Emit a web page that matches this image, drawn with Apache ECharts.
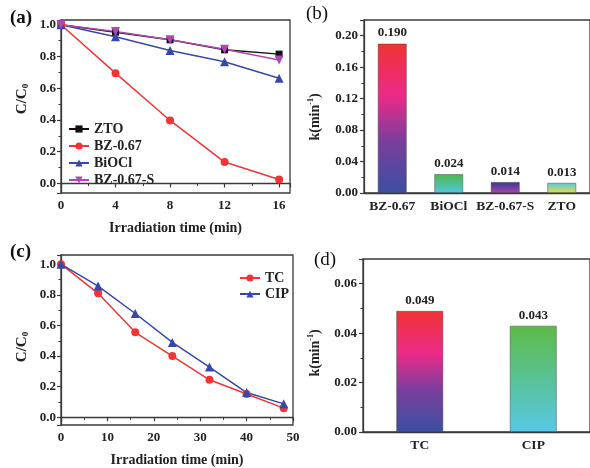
<!DOCTYPE html>
<html>
<head>
<meta charset="utf-8">
<script src="https://cdn.jsdelivr.net/npm/echarts@6/dist/echarts.min.js"></script>
<style>
  html, body { margin: 0; padding: 0; background: #fff; }
  #chart { width: 590px; height: 468px; }
</style>
</head>
<body>
<div id="chart"></div>
<script>
// (a) degradation curves, C/C0 vs irradiation time
const timeA = [0, 4, 8, 12, 16];
const ztoA = [1.0, 0.953, 0.905, 0.842, 0.815];
const bz067A = [1.0, 0.695, 0.397, 0.135, 0.025];
const biociA = [1.0, 0.925, 0.838, 0.767, 0.663];
const bz067sA = [1.0, 0.958, 0.906, 0.846, 0.778];

// (b) rate constants k (min^-1)
const catsB = ['BZ-0.67', 'BiOCl', 'BZ-0.67-S', 'ZTO'];
const kB = [0.190, 0.024, 0.014, 0.013];
const labelsB = ['0.190', '0.024', '0.014', '0.013'];

// (c) TC and CIP degradation curves
const timeC = [0, 8, 16, 24, 32, 40, 48];
const tcC = [1.0, 0.81, 0.555, 0.40, 0.245, 0.152, 0.06];
const cipC = [1.0, 0.857, 0.678, 0.489, 0.328, 0.162, 0.088];

// (d) rate constants for TC and CIP
const catsD = ['TC', 'CIP'];
const kD = [0.049, 0.043];
const labelsD = ['0.049', '0.043'];

const FONT = '"Liberation Serif", "Times New Roman", "DejaVu Serif", serif';
const INK = '#222';
const AXIS = '#3a3a3a';

const RED = '#f03535';
const BLUE = '#3848a8';
const MAGENTA = '#b048b4';

function grad(stops) {
  return new echarts.graphic.LinearGradient(0, 0, 0, 1,
    stops.map(s => ({ offset: s[0], color: s[1] })));
}
const barFills = {
  'BZ-0.67': [[0, '#ef3333'], [0.35, '#ec2a88'], [0.65, '#7b3e9c'], [1, '#3a50a2']],
  'BiOCl': [[0, '#4db848'], [1, '#50c8e2']],
  'BZ-0.67-S': [[0, '#2e3c94'], [1, '#b444aa']],
  'ZTO': [[0, '#56c8e6'], [1, '#e6e042']],
  'TC': [[0, '#ef3333'], [0.35, '#ec2a88'], [0.65, '#7b3e9c'], [1, '#3a50a2']],
  'CIP': [[0, '#5cbb46'], [1, '#58c8e6']]
};

const tickLabel = { fontFamily: FONT, fontWeight: 'bold', fontSize: 13, color: INK };
const axisLine = { show: true, lineStyle: { color: AXIS, width: 1.3 } };
const majorTick = { show: true, length: 4, lineStyle: { color: AXIS, width: 1.2 } };
const minorTick = { show: true, splitNumber: 2, length: 2.5, lineStyle: { color: AXIS, width: 1 } };
const gridBox = { show: true, borderColor: AXIS, borderWidth: 1.3, backgroundColor: 'transparent' };

function valueAxis(extra) {
  return Object.assign({
    type: 'value',
    axisLine: axisLine,
    axisTick: majorTick,
    minorTick: minorTick,
    splitLine: { show: false },
    axisLabel: Object.assign({ margin: 5 }, tickLabel)
  }, extra);
}

function lineSeries(name, xs, ys, color, symbol, size, axisIndex) {
  return {
    type: 'line', name: name,
    xAxisIndex: axisIndex, yAxisIndex: axisIndex,
    data: xs.map((x, i) => [x, ys[i]]),
    symbol: symbol, symbolSize: size,
    lineStyle: { color: color, width: 1.5 },
    itemStyle: { color: color },
    emphasis: { disabled: true },
    z: 3
  };
}

function barSeries(cats, vals, labels, axisIndex, width) {
  return {
    type: 'bar',
    xAxisIndex: axisIndex, yAxisIndex: axisIndex,
    barWidth: width,
    data: vals.map((v, i) => ({
      value: v,
      itemStyle: { color: grad(barFills[cats[i]]), borderColor: 'rgba(60,60,60,0.55)', borderWidth: 0.8 }
    })),
    label: {
      show: true, position: 'top', distance: 4,
      formatter: p => labels[p.dataIndex],
      fontFamily: FONT, fontWeight: 'bold', fontSize: 13, color: INK
    },
    emphasis: { disabled: true }
  };
}

const downTri = 'path://M0,0 L10,0 L5,9 Z';

const nameStyle = { fontFamily: FONT, fontWeight: 'bold', fontSize: 14, color: INK };

function panelTag(text, x, y, bold) {
  return {
    type: 'text', left: x, top: y,
    style: { text: text, font: (bold ? 'bold ' : '') + '19px ' + FONT, fill: '#111' }
  };
}

function ccoName(cx, cy) {
  return {
    type: 'text', x: cx, y: cy, rotation: Math.PI / 2,
    style: {
      text: '{a|C/C}{s|0}', align: 'center', verticalAlign: 'middle',
      rich: {
        a: { fontFamily: FONT, fontWeight: 'bold', fontSize: 15, fill: INK, lineHeight: 16, verticalAlign: 'middle' },
        s: { fontFamily: FONT, fontWeight: 'bold', fontSize: 9, fill: INK, lineHeight: 9, verticalAlign: 'bottom' }
      }
    }
  };
}

function kName(cx, cy) {
  return {
    type: 'text', x: cx, y: cy, rotation: Math.PI / 2,
    style: {
      text: '{a|k(min}{p|-1}{a|)}', align: 'center', verticalAlign: 'middle',
      rich: {
        a: { fontFamily: FONT, fontWeight: 'bold', fontSize: 14, fill: INK, lineHeight: 16, verticalAlign: 'middle' },
        p: { fontFamily: FONT, fontWeight: 'bold', fontSize: 8, fill: INK, lineHeight: 8, verticalAlign: 'top' }
      }
    }
  };
}

const chart = echarts.init(document.getElementById('chart'), null, { renderer: 'canvas' });

chart.setOption({
  animation: false,
  backgroundColor: '#fff',
  grid: [
    Object.assign({ left: 61, top: 20, width: 229, height: 173 }, gridBox),
    Object.assign({ left: 364, top: 20, width: 232, height: 173 }, gridBox),
    Object.assign({ left: 61, top: 255, width: 232, height: 175 }, gridBox),
    Object.assign({ left: 363, top: 259, width: 232, height: 173 }, gridBox)
  ],
  xAxis: [
    valueAxis({
      gridIndex: 0, min: 0, max: 16.8, interval: 4,
      axisLabel: Object.assign({ margin: 6, showMaxLabel: false }, tickLabel),
      name: 'Irradiation time (min)', nameLocation: 'middle', nameGap: 28, nameTextStyle: nameStyle
    }),
    {
      type: 'category', gridIndex: 1, data: catsB,
      axisLine: axisLine, axisTick: { show: false },
      axisLabel: Object.assign({ margin: 7, interval: 0 }, tickLabel, { fontSize: 13.5 })
    },
    valueAxis({
      gridIndex: 2, min: 0, max: 50, interval: 10,
      axisLabel: Object.assign({ margin: 6 }, tickLabel),
      name: 'Irradiation time (min)', nameLocation: 'middle', nameGap: 28, nameTextStyle: nameStyle
    }),
    {
      type: 'category', gridIndex: 3, data: catsD,
      axisLine: axisLine, axisTick: { show: false },
      axisLabel: Object.assign({ margin: 7, interval: 0 }, tickLabel, { fontSize: 13.5 })
    }
  ],
  yAxis: [
    // the axis range runs a little below 0 and above 1; ticks fall on the nice 0.2 steps
    valueAxis({
      gridIndex: 0, min: -0.06, max: 1.03, splitNumber: 5,
      axisLabel: Object.assign({ margin: 5, showMinLabel: false, showMaxLabel: false,
        formatter: v => v.toFixed(1) }, tickLabel)
    }),
    valueAxis({
      gridIndex: 1, min: 0, max: 0.22, interval: 0.04,
      axisLabel: Object.assign({ margin: 6, showMaxLabel: false,
        formatter: v => v.toFixed(2) }, tickLabel)
    }),
    valueAxis({
      gridIndex: 2, min: -0.05, max: 1.06, splitNumber: 5,
      axisLabel: Object.assign({ margin: 5, showMinLabel: false, showMaxLabel: false,
        formatter: v => v.toFixed(1) }, tickLabel)
    }),
    valueAxis({
      gridIndex: 3, min: 0, max: 0.07, interval: 0.02,
      axisLabel: Object.assign({ margin: 6, showMaxLabel: false,
        formatter: v => v.toFixed(2) }, tickLabel)
    })
  ],
  legend: [
    {
      orient: 'vertical', left: 63, top: 117, itemGap: 3,
      itemWidth: 20, itemHeight: 9,
      data: ['ZTO', 'BZ-0.67', 'BiOCl', 'BZ-0.67-S'],
      textStyle: { fontFamily: FONT, fontWeight: 'bold', fontSize: 14, color: INK, lineHeight: 14 },
      selectedMode: false
    },
    {
      orient: 'vertical', left: 234, top: 266, itemGap: 2,
      itemWidth: 20, itemHeight: 9,
      data: ['TC', 'CIP'],
      textStyle: { fontFamily: FONT, fontWeight: 'bold', fontSize: 14, color: INK, lineHeight: 14 },
      selectedMode: false
    }
  ],
  series: [
    lineSeries('ZTO', timeA, ztoA, '#111111', 'rect', 7, 0),
    lineSeries('BZ-0.67', timeA, bz067A, RED, 'circle', 8, 0),
    lineSeries('BiOCl', timeA, biociA, BLUE, 'triangle', 9, 0),
    lineSeries('BZ-0.67-S', timeA, bz067sA, MAGENTA, downTri, 9, 0),
    barSeries(catsB, kB, labelsB, 1, 29),
    lineSeries('TC', timeC, tcC, RED, 'circle', 8, 2),
    lineSeries('CIP', timeC, cipC, BLUE, 'triangle', 9, 2),
    barSeries(catsD, kD, labelsD, 3, 47)
  ],
  graphic: [
    panelTag('(a)', 10, 9, true),
    panelTag('(b)', 306, 5, false),
    panelTag('(c)', 10, 243, true),
    panelTag('(d)', 314, 251, false),
    ccoName(22, 99),
    kName(315, 117),
    ccoName(22, 347),
    kName(315, 353)
  ]
});
</script>
</body>
</html>
